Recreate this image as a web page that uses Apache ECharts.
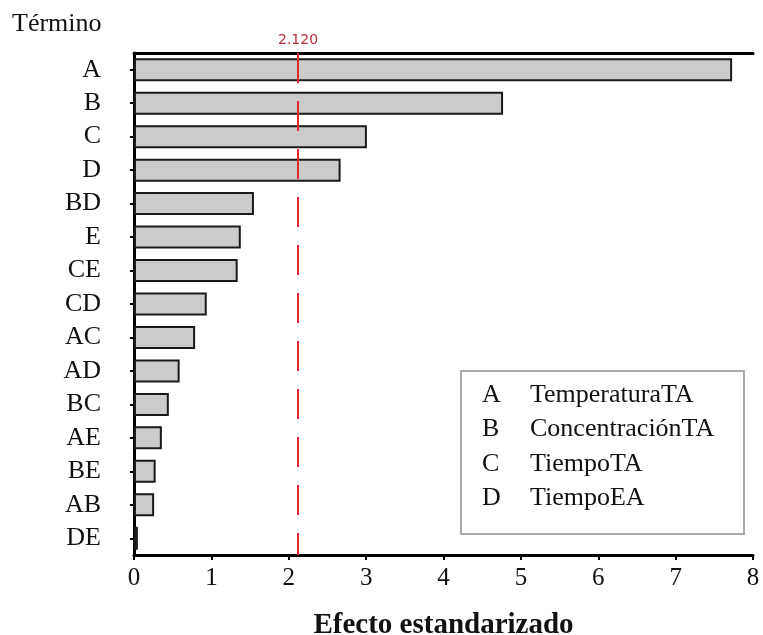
<!DOCTYPE html>
<html>
<head>
<meta charset="utf-8">
<script src="https://cdn.jsdelivr.net/npm/echarts@6/dist/echarts.min.js"></script>
<style>html,body{margin:0;padding:0;background:#fff}#c{width:763px;height:635px}</style>
</head>
<body>
<div id="c"></div>
<script>
const terms = ['A','B','C','D','BD','E','CE','CD','AC','AD','BC','AE','BE','AB','DE'];
const effects = [7.73,4.77,3.01,2.67,1.55,1.38,1.34,0.94,0.79,0.59,0.45,0.36,0.28,0.26,0.05];
const xTicks = [0,1,2,3,4,5,6,7,8];
const refValue = 2.120;
const legendKeys = ['A','B','C','D'];
const legendNames = ['TemperaturaTA','ConcentraciónTA','TiempoTA','TiempoEA'];

const serif = '"Liberation Serif","DejaVu Serif",serif';
const chart = echarts.init(document.getElementById('c'));

const legendGraphics = [{
  type:'rect', left:460, top:370,
  shape:{width:283, height:163},
  style:{fill:'#fff', stroke:'#aaaaaa', lineWidth:2}
}];
legendKeys.forEach((k,i)=>{
  legendGraphics.push({type:'text', left:482, top:382+i*34.5,
    style:{text:k, font:'26px '+serif, fill:'#111'}});
  legendGraphics.push({type:'text', left:530, top:382+i*34.5,
    style:{text:legendNames[i], font:'26px '+serif, fill:'#111'}});
});
legendGraphics.push({type:'text', left:12, top:11,
  style:{text:'Término', font:'26px '+serif, fill:'#111'}});

chart.setOption({
  animation:false,
  grid:{left:134, right:10, top:53, bottom:80, containLabel:false, outerBoundsMode:'none'},
  xAxis:[{
    type:'value', min:xTicks[0], max:xTicks[xTicks.length-1], interval:1,
    position:'bottom',
    axisLine:{show:true, lineStyle:{color:'#000', width:3}},
    axisTick:{show:true, length:5, lineStyle:{color:'#000', width:2}},
    axisLabel:{color:'#111', fontFamily:serif, fontSize:25, margin:11},
    splitLine:{show:false},
    name:'Efecto estandarizado', nameLocation:'middle', nameGap:56,
    nameTextStyle:{fontFamily:serif, fontSize:29, fontWeight:'bold', color:'#111'}
  },{
    type:'value', min:xTicks[0], max:xTicks[xTicks.length-1], position:'top',
    axisLine:{show:true, lineStyle:{color:'#000', width:3}},
    axisTick:{show:false}, axisLabel:{show:false}, splitLine:{show:false}
  }],
  yAxis:{
    type:'category', data:terms, inverse:true,
    axisLine:{show:true, lineStyle:{color:'#000', width:3}},
    axisTick:{show:true, length:4, alignWithLabel:true, interval:0, lineStyle:{color:'#000', width:2}},
    axisLabel:{color:'#111', fontFamily:serif, fontSize:26, margin:33, interval:0},
    splitLine:{show:false}
  },
  series:[{
    type:'line', data:[], z:1, xAxisIndex:0,
    markLine:{
      silent:true, symbol:'none',
      lineStyle:{color:'#e02828', type:[30,18], width:2},
      label:{show:true, position:'start', formatter:refValue.toFixed(3),
        color:'#b8303c', fontFamily:'"DejaVu Sans",sans-serif', fontSize:14, distance:6},
      data:[{xAxis:refValue}]
    }
  },{
    type:'bar', data:effects, barWidth:23, xAxisIndex:0, z:3,
    itemStyle:{color:'#cbcbcb', borderColor:'#1a1a1a', borderWidth:2}
  }],
  graphic: legendGraphics
});
</script>
</body>
</html>
